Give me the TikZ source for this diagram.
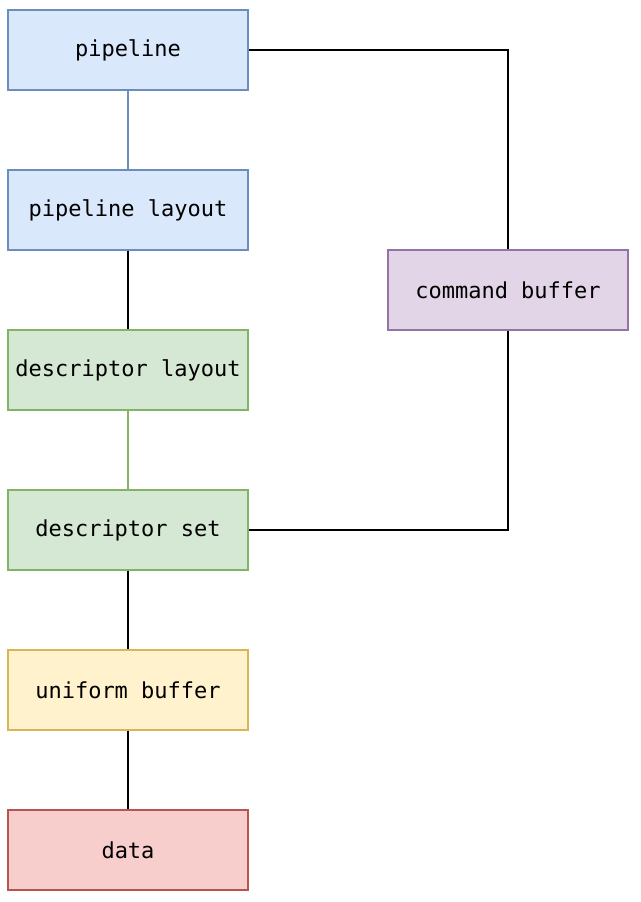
\documentclass[tikz,border=0pt]{standalone}
\usepackage{fontspec}
\setmonofont{DejaVu Sans Mono}
\usepackage{tikz}
\usetikzlibrary{positioning}
\definecolor{bluefill}{HTML}{DAE8FC}\definecolor{blueline}{HTML}{6C8EBF}
\definecolor{greenfill}{HTML}{D5E8D4}\definecolor{greenline}{HTML}{82B366}
\definecolor{purplefill}{HTML}{E1D5E7}\definecolor{purpleline}{HTML}{9673A6}
\definecolor{yellowfill}{HTML}{FFF2CC}\definecolor{yellowline}{HTML}{D6B656}
\definecolor{redfill}{HTML}{F8CECC}\definecolor{redline}{HTML}{B85450}
\tikzset{
  box/.style={draw, line width=1.5pt, minimum width=240pt, minimum height=80pt,
    inner sep=0pt, font=\ttfamily\fontsize{22}{24}\selectfont},
  link/.style={line width=1.5pt}
}
\begin{document}
\begin{tikzpicture}[x=1pt,y=-1pt]
  \useasboundingbox (0,0) rectangle (640,902);
  % draw boxes
  \node[box, fill=bluefill, draw=blueline] (pipe) at (128,50) {pipeline};
  \node[box, fill=bluefill, draw=blueline] (pipelayout) at (128,210) {pipeline layout};
  \node[box, fill=greenfill, draw=greenline] (desclayout) at (128,370) {descriptor layout};
  \node[box, fill=greenfill, draw=greenline] (descset) at (128,530) {descriptor set};
  \node[box, fill=yellowfill, draw=yellowline] (uniform) at (128,690) {uniform buffer};
  \node[box, fill=redfill, draw=redline] (data) at (128,850) {data};
  \node[box, fill=purplefill, draw=purpleline] (cmdbuf) at (508,290) {command buffer};
  % draw links
  \draw[link, blueline] (pipe) -- (pipelayout);
  \draw[link] (pipelayout) -- (desclayout);
  \draw[link, greenline] (desclayout) -- (descset);
  \draw[link] (descset) -- (uniform);
  \draw[link] (uniform) -- (data);
  \draw[link] (pipe.east) -| (cmdbuf.north);
  \draw[link] (cmdbuf.south) |- (descset.east);
\end{tikzpicture}
\end{document}
